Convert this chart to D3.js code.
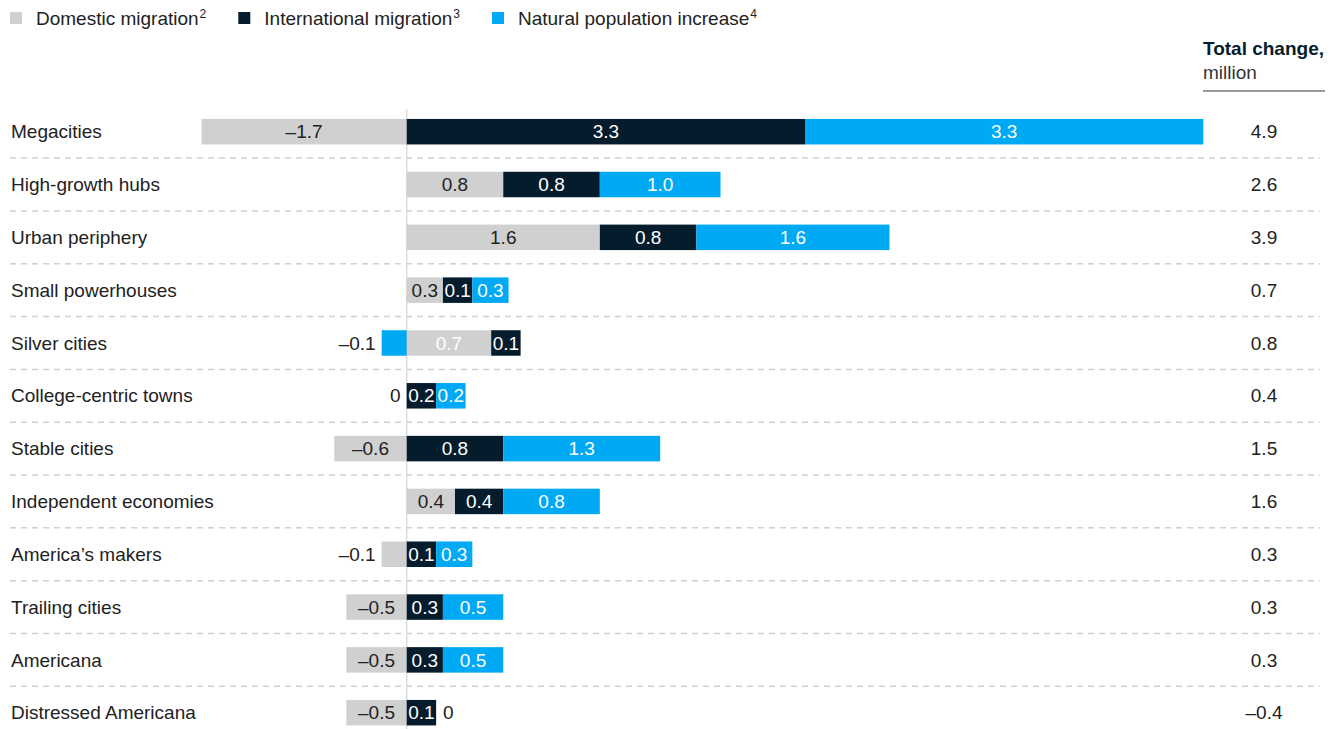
<!DOCTYPE html>
<html>
<head>
<meta charset="utf-8">
<script src="https://cdn.jsdelivr.net/npm/d3@7/dist/d3.min.js"></script>
<style>
  html, body { margin: 0; padding: 0; background: #fff; }
  svg { display: block; font-family: "Liberation Sans", Arial, sans-serif; }
</style>
</head>
<body>
<svg id="chart" width="1337" height="729"></svg>
<script>
// ---- data ----
const categories = ["Megacities", "High-growth hubs", "Urban periphery", "Small powerhouses", "Silver cities",
  "College-centric towns", "Stable cities", "Independent economies", "America\u2019s makers",
  "Trailing cities", "Americana", "Distressed Americana"];
const domestic      = [-1.7, 0.8, 1.6, 0.3, 0.7, 0, -0.6, 0.4, -0.1, -0.5, -0.5, -0.5];
const international = [3.3, 0.8, 0.8, 0.1, 0.1, 0.2, 0.8, 0.4, 0.1, 0.3, 0.3, 0.1];
const natural       = [3.3, 1.0, 1.6, 0.3, -0.1, 0.2, 1.3, 0.8, 0.3, 0.5, 0.5, 0];
const totals        = [4.9, 2.6, 3.9, 0.7, 0.8, 0.4, 1.5, 1.6, 0.3, 0.3, 0.3, -0.4];
const seriesNames   = ["Domestic migration", "International migration", "Natural population increase"];
const seriesNotes   = ["2", "3", "4"];
const lightLabelCells = [["Silver cities", 0]];

// ---- style ----
const colors = ["#d0d0d0", "#051c2c", "#00a9f4"];
const labelColors = ["#222", "#fff", "#fff"];
const FS = 19;
const svg = d3.select("#chart");
const W = 1337, H = 729;

const zeroX = 406.7, k = 120.7;
const x = d3.scaleLinear().domain([-2, 6.6]).range([zeroX - 2 * k, zeroX + 6.6 * k]);
const y = d3.scalePoint().domain(categories).range([131.7, 712.7]);
const barH = 25.5;
const fmt = v => (v < 0 ? "\u2013" : "") + (v === 0 ? "0" : d3.format(".1f")(Math.abs(v)));

// text measuring
const measurer = svg.append("text").attr("font-size", FS).attr("visibility", "hidden");
function tw(s, size, weight) {
  measurer.attr("font-size", size || FS).attr("font-weight", weight || "normal").text(s);
  return measurer.node().getComputedTextLength();
}

// ---- legend ----
let lx = 10;
seriesNames.forEach((name, i) => {
  const g = svg.append("g");
  g.append("rect").attr("x", lx).attr("y", 12).attr("width", 12).attr("height", 12).attr("fill", colors[i]);
  const t = g.append("text").attr("x", lx + 26).attr("y", 25).attr("font-size", FS).attr("fill", "#222");
  t.append("tspan").text(name);
  t.append("tspan").attr("font-size", 12).attr("dy", -7).attr("dx", 1).text(seriesNotes[i]);
  lx += 26 + tw(name) + 1 + tw(seriesNotes[i], 12) + 32;
});

// ---- header ----
svg.append("text").attr("x", 1324).attr("y", 55).attr("text-anchor", "end")
  .attr("font-size", FS).attr("font-weight", "bold").attr("fill", "#051c2c").text("Total change,");
svg.append("text").attr("x", 1203).attr("y", 79).attr("font-size", FS).attr("fill", "#333").text("million");
svg.append("line").attr("x1", 1203).attr("x2", 1325).attr("y1", 91).attr("y2", 91)
  .attr("stroke", "#777").attr("stroke-width", 1.5);

// ---- separators ----
const step = y.step();
categories.slice(0, -1).forEach(c => {
  svg.append("line").attr("x1", 10).attr("x2", 1320)
    .attr("y1", y(c) + step / 2).attr("y2", y(c) + step / 2)
    .attr("stroke", "#d0d0d0").attr("stroke-width", 1.5).attr("stroke-dasharray", "6,5");
});

// ---- zero line ----
svg.append("line").attr("x1", x(0)).attr("x2", x(0)).attr("y1", 109).attr("y2", H)
  .attr("stroke", "#dcdcdc").attr("stroke-width", 1.5);

// ---- row labels ----
svg.append("g").selectAll("text").data(categories).join("text")
  .attr("x", 11).attr("y", d => y(d)).attr("dy", "0.35em")
  .attr("font-size", FS).attr("fill", "#222").text(d => d);

// ---- bars ----
const series = [domestic, international, natural];
const barsG = svg.append("g");
const labG = svg.append("g");
categories.forEach((c, r) => {
  let pos = x(0), neg = x(0);
  const cy = y(c);
  series.forEach((arr, s) => {
    const v = arr[r];
    const label = fmt(v);
    const textW = tw(label);
    const scaled = Math.abs(x(v) - x(0));
    const light = lightLabelCells.some(p => p[0] === c && p[1] === s);
    let x0, w, inside;
    if (v === 0) {
      w = 0; inside = false;
      x0 = (s === 0) ? neg : pos;
    } else if (v > 0) {
      w = Math.max(scaled, textW + 3, 25);
      inside = true;
      x0 = pos; pos += w;
    } else {
      inside = textW + 4 <= scaled;
      w = Math.max(scaled, 25);
      neg -= w; x0 = neg;
    }
    if (w > 0) {
      barsG.append("rect").attr("x", x0).attr("y", cy - barH / 2).attr("width", w).attr("height", barH)
        .attr("fill", colors[s]);
    }
    const t = labG.append("text").attr("y", cy).attr("dy", "0.35em").attr("font-size", FS).text(label);
    if (inside) {
      t.attr("x", x0 + w / 2).attr("text-anchor", "middle").attr("fill", light ? "#fff" : labelColors[s]);
    } else if (v < 0 || (v === 0 && s === 0)) {
      t.attr("x", x0 - 6).attr("text-anchor", "end").attr("fill", "#222");
    } else {
      t.attr("x", x0 + 7).attr("text-anchor", "start").attr("fill", "#222");
    }
  });
  svg.append("text").attr("x", 1264).attr("y", cy).attr("dy", "0.35em").attr("text-anchor", "middle")
    .attr("font-size", FS).attr("fill", "#222").text(fmt(totals[r]));
});
measurer.remove();
</script>
</body>
</html>
